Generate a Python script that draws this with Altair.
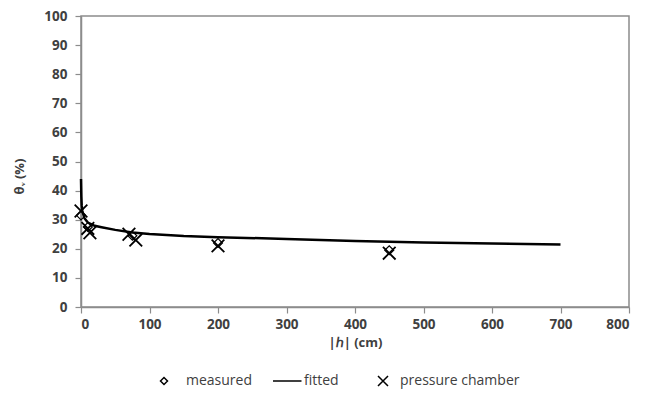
import altair as alt
import pandas as pd

# Measured points (diamonds)
measured_h = [0, 10, 75, 200, 450]
measured_theta = [31.5, 27.5, 24.5, 22.0, 19.5]

# Pressure chamber points (crosses)
pressure_h = [0, 10, 13, 70, 80, 200, 450]
pressure_theta = [33.0, 27.0, 25.5, 25.0, 23.0, 21.0, 18.5]

# Fitted curve
fitted_h = [0, 0.5, 1, 2, 5, 10, 20, 30, 50, 75, 100, 150, 200, 300, 400, 500, 600, 700]
fitted_theta = [44, 38, 35, 33, 30.5, 29.0, 27.9, 27.4, 26.5, 25.6, 25.1, 24.4, 24.0, 23.4, 22.7, 22.2, 21.8, 21.5]

legend_a_names = ["measured", "fitted"]
legend_b_names = ["pressure chamber"]
x_ticks = list(range(0, 801, 100))
y_ticks = list(range(0, 101, 10))

X_PATH = "M-1,-1L1,1M-1,1L1,-1"
LEG_LINE = "M-2.57,0L5.57,0"
LEG_X = "M-1.43,-1.43L1.43,1.43M-1.43,1.43L1.43,-1.43"

fit_df = pd.DataFrame({"h": fitted_h, "theta": fitted_theta})
meas_df = pd.DataFrame({"h": measured_h, "theta": measured_theta, "series": "measured"})
pres_df = pd.DataFrame({"h": pressure_h, "theta": pressure_theta, "series": "pressure chamber"})

FONT = "Open Sans"

x_enc = alt.X("h:Q", scale=alt.Scale(domain=[0, 800], nice=False),
              axis=alt.Axis(values=x_ticks, title="|ℎ| (cm)"))
y_enc = alt.Y("theta:Q", scale=alt.Scale(domain=[0, 100], nice=False),
              axis=alt.Axis(values=y_ticks, title="θᵥ (%)", labelOverlap=False, titleY=160))

legend_a = alt.Legend(orient="none", legendX=76, legendY=358, direction="horizontal",
                      title=None, columns=2, labelOffset=15, columnPadding=17)
legend_b = alt.Legend(orient="none", legendX=295, legendY=358, direction="horizontal",
                      title=None, symbolType=LEG_X, labelOffset=10)

line = alt.Chart(fit_df).mark_line(color="black", strokeWidth=2.5).encode(x=x_enc, y=y_enc)

meas = alt.Chart(meas_df).mark_point(shape="diamond", size=80, filled=False, color="black",
                                     strokeWidth=1.2, opacity=1).encode(
    x=x_enc, y=y_enc,
    shape=alt.Shape("series:N", scale=alt.Scale(domain=legend_a_names, range=["diamond", LEG_LINE]),
                    legend=legend_a),
)
pres = alt.Chart(pres_df).mark_point(shape=X_PATH, size=160, filled=False,
                                     strokeWidth=1.8, opacity=1).encode(
    x=x_enc, y=y_enc,
    color=alt.Color("series:N", scale=alt.Scale(domain=legend_b_names, range=["black"]),
                    legend=legend_b),
)

chart = alt.layer(line, meas, pres).properties(
    width=548, height=291,
    padding={"left": 5, "top": 1, "right": 5, "bottom": 5},
).configure_view(
    stroke="#8c8c8c", strokeWidth=1.5
).configure_axis(
    domainColor="#8c8c8c", domainWidth=1.5, tickColor="#8c8c8c", tickWidth=1.2, tickSize=6,
    grid=False, labelFont=FONT, labelFontWeight="bold", labelFontSize=13.5, labelColor="#404040",
    titleFont=FONT, titleFontWeight="bold", titleFontSize=13, titleColor="#404040",
).configure_axisX(labelPadding=4, titlePadding=6
).configure_axisY(labelPadding=8, titlePadding=17
).configure_legend(
    labelFont=FONT, labelFontSize=14, labelColor="#404040", symbolSize=49,
    symbolStrokeColor="black", symbolFillColor="transparent", symbolStrokeWidth=1.5,
)

chart.save("out.html", embed_options={"renderer": "svg", "actions": False})
